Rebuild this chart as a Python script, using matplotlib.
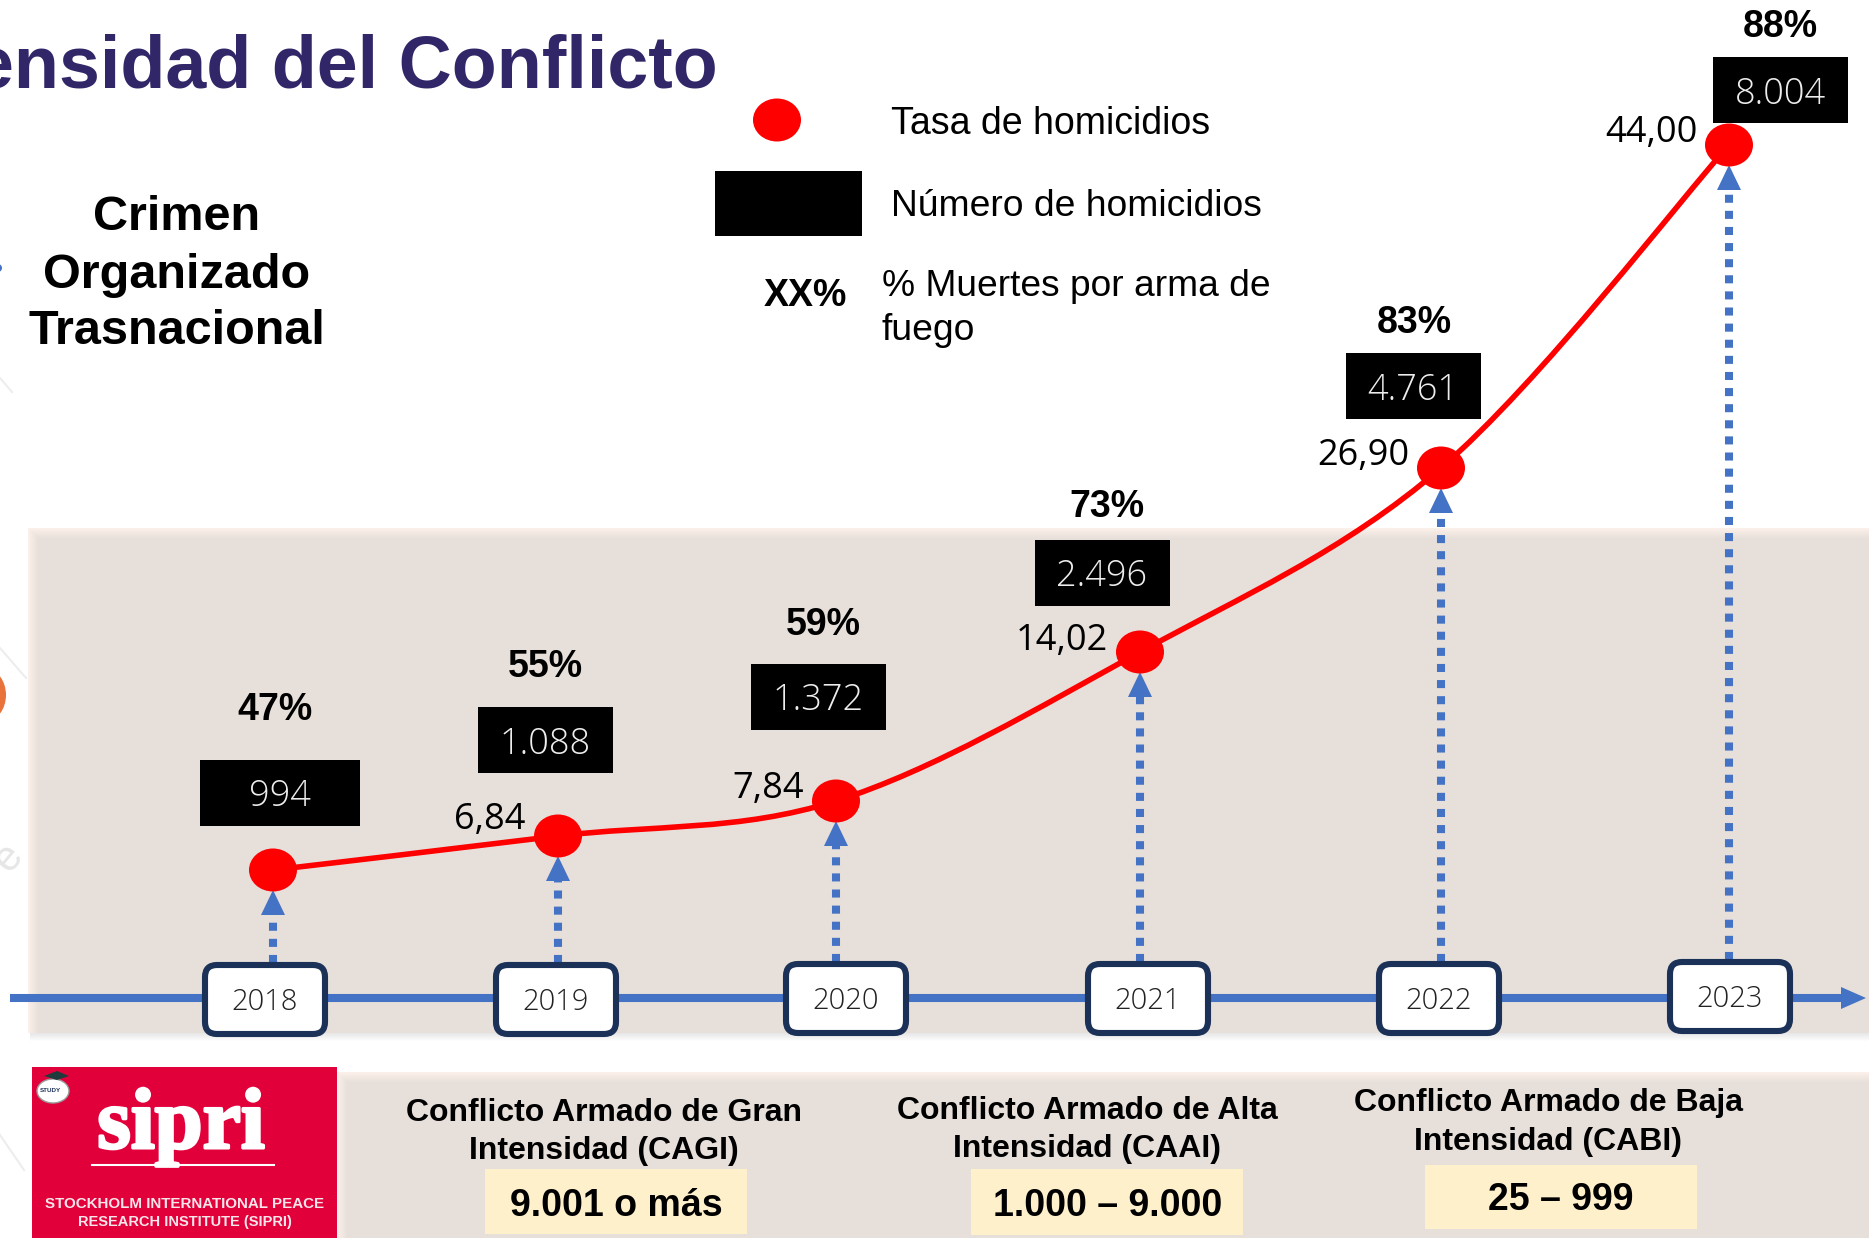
import matplotlib
matplotlib.use("Agg")
import matplotlib.pyplot as plt
import matplotlib.patheffects as pe
import numpy as np
from matplotlib.patches import Rectangle, Ellipse, FancyBboxPatch, PathPatch, Polygon
from matplotlib.path import Path
from matplotlib.colors import to_rgb

# data
years = ["2018", "2019", "2020", "2021", "2022", "2023"]
homicidios = ["994", "1.088", "1.372", "2.496", "4.761", "8.004"]
pct_arma = ["47%", "55%", "59%", "73%", "83%", "88%"]
tasa = [None, "6,84", "7,84", "14,02", "26,90", "44,00"]
# the rate is not drawn to a linear scale, so heights above the timeline are read off directly
tasa_altura = [128, 162, 197, 346, 530, 853]

# layout (pixels of the slide)
W, H = 1869, 1238
BASE = 998
point_x = [273, 558, 836, 1140, 1441, 1729]
year_x = [265, 556, 846, 1148, 1439, 1730]
year_top = [963, 963, 962, 962, 962, 960]
box_x = [280, 545, 818, 1102, 1413, 1780]
box_y = [793, 740, 697, 573, 386, 90]
box_w = [160, 135, 135, 135, 135, 135]
pct_pos = [(275, 707), (545, 664), (823, 622), (1107, 504), (1414, 320), (1780, 24)]
tasa_pos = [None, (490, 817), (768, 786), (1062, 638), (1363, 453), (1651, 130)]

RED = "#FF0000"
BLUE = "#4472C4"
NAVY = "#1B3158"
PANEL = "#E7DFDA"
FRINGE = "#FBF0E9"
YELLOW = "#FFF0CC"
ARIAL = "Liberation Sans"
SEGOE = "Open Sans"

fig = plt.figure(figsize=(W / 100, H / 100), dpi=100)
ax = fig.add_axes([0, 0, 1, 1])
ax.set_xlim(0, W)
ax.set_ylim(H, 0)
ax.axis("off")


def soft_panel(x0, y0, x1, y1, steps=10):
    # peach fringe that fades into the panel colour, left and top edges
    a = np.array(to_rgb(FRINGE))
    b = np.array(to_rgb(PANEL))
    for i in range(steps + 1):
        col = a + (b - a) * i / steps
        ax.add_patch(Rectangle((x0 + i, y0 + i), x1 - x0 - i, y1 - y0 - i, fc=col, ec="none", zorder=1))


soft_panel(28, 528, W + 10, 1033)
soft_panel(337, 1072, W + 10, H + 10)
# shadow under the upper panel
for i in range(8):
    ax.add_patch(Rectangle((30, 1033 + i), W, 1, fc="#D8D8D8", ec="none", alpha=0.6 * (1 - i / 8), zorder=1))

# faint watermark bits at the left edge
for xs, ys in [((0, 12), (378, 392)), ((0, 26), (648, 678)), ((0, 24), (1135, 1170))]:
    ax.plot(xs, ys, color="#EDEDED", lw=1.5, zorder=0)
ax.text(8, 858, "e", fontsize=30, color="#E6E6E6", rotation=50, ha="center", va="center",
        family=ARIAL, zorder=0)
ax.add_patch(Ellipse((-14, 695), 40, 52, fc="#E8743B", ec="none", zorder=0))
ax.add_patch(Ellipse((-2, 268), 8, 8, fc=BLUE, ec="none", zorder=0))

# title, cut by the slide edge like in the original
ax.text(718, 87, "Intensidad del Conflicto", fontsize=53, fontweight="bold", color="#312668",
        ha="right", va="baseline", family=ARIAL)

for yy, line in zip([217, 275, 332], ["Crimen", "Organizado", "Trasnacional"]):
    ax.text(177, yy, line, fontsize=35, fontweight="bold", ha="center", va="center", family=ARIAL)

# legend
ax.add_patch(Ellipse((777, 120), 48, 43, fc=RED, ec="none"))
ax.add_patch(Rectangle((715, 171), 147, 65, fc="black", ec="none"))
ax.text(805, 296, "XX%", fontsize=27, fontweight="bold", ha="center", va="center", family=ARIAL)
ax.text(891, 124, "Tasa de homicidios", fontsize=27, ha="left", va="center", family=ARIAL)
ax.text(891, 206, "Número de homicidios", fontsize=26.8, ha="left", va="center", family=ARIAL)
ax.text(882, 286, "% Muertes por arma de", fontsize=26.7, ha="left", va="center", family=ARIAL)
ax.text(882, 331, "fuego", fontsize=26.8, ha="left", va="center", family=ARIAL)

# timeline
ax.plot([10, 1845], [BASE, BASE], color=BLUE, lw=5.8, solid_capstyle="butt", zorder=2)
ax.add_patch(Polygon([(1841, 987), (1866, 998), (1841, 1009)], fc=BLUE, ec="none", zorder=2))

point_y = [BASE - h for h in tasa_altura]

# dotted arrows from the year boxes up to the points
for x, y, top in zip(point_x, point_y, year_top):
    tip = y + 20
    ax.plot([x, x], [top, tip + 25], color=BLUE, lw=5.8, linestyle=(0, (1, 1)),
            solid_capstyle="butt", dash_capstyle="butt", zorder=3)
    ax.add_patch(Polygon([(x - 12, tip + 25), (x, tip), (x + 12, tip + 25)], fc=BLUE, ec="none", zorder=3))

# smooth red line through the points (catmull-rom as bezier)
pts = np.column_stack([point_x, point_y]).astype(float)
verts = [tuple(pts[0])]
codes = [Path.MOVETO]
for i in range(len(pts) - 1):
    p0 = pts[max(i - 1, 0)]
    p1 = pts[i]
    p2 = pts[i + 1]
    p3 = pts[min(i + 2, len(pts) - 1)]
    verts += [tuple(p1 + (p2 - p0) / 6), tuple(p2 - (p3 - p1) / 6), tuple(p2)]
    codes += [Path.CURVE4] * 3
ax.add_patch(PathPatch(Path(verts, codes), fc="none", ec=RED, lw=4, zorder=4))

# points
for x, y in zip(point_x, point_y):
    ax.add_patch(Ellipse((x, y), 48, 43, fc=RED, ec="none", zorder=5))

# year boxes
for x, top, label in zip(year_x, year_top, years):
    ax.add_patch(FancyBboxPatch((x - 60, top + 2), 120, 69, boxstyle="round,pad=0,rounding_size=12",
                                fc="white", ec=NAVY, lw=4.4, zorder=6))
    ax.text(x, top + 39, label, fontsize=21, fontweight="light", ha="center", va="center",
            family=SEGOE, color="#222222", zorder=7)

# black boxes with number of homicides
for x, y, w, label in zip(box_x, box_y, box_w, homicidios):
    ax.add_patch(Rectangle((x - w / 2, y - 33), w, 66, fc="black", ec="none", zorder=6))
    ax.text(x, y + 4, label, fontsize=26, fontweight="light", color="#EDEDED", ha="center", va="center",
            family=SEGOE, zorder=7)

for (x, y), label in zip(pct_pos, pct_arma):
    ax.text(x, y + 3, label, fontsize=27, fontweight="bold", ha="center", va="center", family=ARIAL, zorder=7)

for pos, label in zip(tasa_pos, tasa):
    if label is None:
        continue
    ax.text(pos[0], pos[1] + 3, label, fontsize=26, ha="center", va="center", family=SEGOE, zorder=7)

# sipri logo
ax.add_patch(Rectangle((32, 1067), 305, 180, fc="#E2003B", ec="none", zorder=2))
logo = ax.text(181, 1148, "sipri", fontsize=62, fontweight="bold", color="white", ha="center", va="baseline",
               family="Liberation Serif", zorder=3)
logo.set_path_effects([pe.withStroke(linewidth=2.2, foreground="white")])
ax.plot([92, 274], [1165, 1165], color="white", lw=1.5, zorder=3)
ax.text(185, 1204, "STOCKHOLM INTERNATIONAL PEACE", fontsize=10.9, fontweight="bold", color="#F8E6EA",
        ha="center", va="center", family=ARIAL, zorder=3)
ax.text(185, 1222, "RESEARCH INSTITUTE (SIPRI)", fontsize=10.5, fontweight="bold", color="#F8E6EA",
        ha="center", va="center", family=ARIAL, zorder=3)
ax.add_patch(Ellipse((53, 1091), 32, 24, fc="white", ec="#999999", lw=1, zorder=3))
ax.add_patch(Polygon([(44, 1076), (57, 1071), (69, 1076), (57, 1080)], fc="#1F3B3B", ec="none", zorder=4))
ax.text(50, 1091, "STUDY", fontsize=4.5, fontweight="bold", color="#1B3158", ha="center", va="center",
        family=ARIAL, zorder=4)

# conflict levels
niveles = [
    (604, 1113, 1151, "Conflicto Armado de Gran", "Intensidad (CAGI)", 485, 747, 1169, 1234, 616, 1206, "9.001 o más"),
    (1087, 1111, 1149, "Conflicto Armado de Alta", "Intensidad (CAAI)", 971, 1243, 1169, 1235, 1108, 1206, "1.000 – 9.000"),
    (1548, 1103, 1142, "Conflicto Armado de Baja", "Intensidad (CABI)", 1425, 1697, 1165, 1229, 1561, 1200, "25 – 999"),
]
for cx, y1, y2, l1, l2, bx0, bx1, by0, by1, tx, ty, rng in niveles:
    ax.text(cx, y1, l1, fontsize=23, fontweight="bold", ha="center", va="center", family=ARIAL, zorder=3)
    ax.text(cx, y2, l2, fontsize=23, fontweight="bold", ha="center", va="center", family=ARIAL, zorder=3)
    ax.add_patch(Rectangle((bx0, by0), bx1 - bx0, by1 - by0, fc=YELLOW, ec="none", zorder=3))
    ax.text(tx, ty, rng, fontsize=27, fontweight="bold", ha="center", va="center", family=ARIAL, zorder=4)

fig.savefig("out.png", dpi=100)
